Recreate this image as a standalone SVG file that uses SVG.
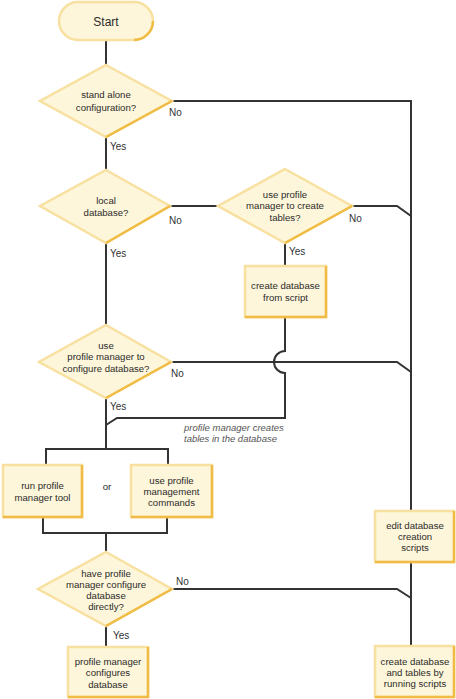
<svg xmlns="http://www.w3.org/2000/svg" width="456" height="699" viewBox="0 0 456 699">
<style>
.bg{fill:#ffffff}
.conn{fill:none;stroke:#333333;stroke-width:2}
.shape{fill:#fef6da;stroke:#f8e0a0;stroke-width:2.5}
.dark{fill:none;stroke:#f0bc45;stroke-width:2.5}
.t{font-family:"Liberation Sans",Arial,sans-serif;font-size:9.6px;fill:#2b2b2b;text-anchor:middle}
.lbl{font-family:"Liberation Sans",Arial,sans-serif;font-size:10px;fill:#333333}
.it{font-family:"Liberation Sans",Arial,sans-serif;font-size:9.5px;font-style:italic;fill:#555555}
</style>
<rect class="bg" x="0" y="0" width="456" height="699"/>
<g id="connectors">
<path class="conn" d="M106 41V65"/>
<path class="conn" d="M106 137V170"/>
<path class="conn" d="M172 101H411V511"/>
<path class="conn" d="M106 243V325"/>
<path class="conn" d="M170 206H218"/>
<path class="conn" d="M352 206H397L411 216"/>
<path class="conn" d="M285 243V266"/>
<path class="conn" d="M285 317V351A11 11 0 0 0 285 373V418H117L106 425"/>
<path class="conn" d="M171 362H397L411 372"/>
<path class="conn" d="M106 398V449M46 465V449H168V465"/>
<path class="conn" d="M43 517V533H167V517M106 533V552"/>
<path class="conn" d="M172 589H397L411 598"/>
<path class="conn" d="M106 626V647"/>
<path class="conn" d="M411 562V646"/>
<text class="lbl" x="169" y="115.5">No</text>
<text class="lbl" x="110" y="149.5">Yes</text>
<text class="lbl" x="169" y="223.5">No</text>
<text class="lbl" x="110" y="256.5">Yes</text>
<text class="lbl" x="349" y="221.5">No</text>
<text class="lbl" x="289" y="254.5">Yes</text>
<text class="lbl" x="171" y="376.5">No</text>
<text class="lbl" x="110" y="409.5">Yes</text>
<text class="lbl" x="176" y="584.5">No</text>
<text class="lbl" x="113" y="638.5">Yes</text>
<text class="it" x="184" y="430.5">profile manager creates</text>
<text class="it" x="184" y="441.5">tables in the database</text>
</g>
<g id="start">
<rect class="shape" x="59" y="2" width="94" height="38" rx="19"/>
<path class="dark" d="M134 40A19 19 0 0 0 153 21"/>
<text class="t" x="106" y="25.5" style="font-size:12px">Start</text>
</g>
<g id="standalone">
<polygon class="shape" points="106,65 172,101 106,137 40,101"/>
<path class="dark" d="M172 101L106 137"/>
<text class="t" x="106" y="97.5">stand alone</text>
<text class="t" x="106" y="110.5">configuration?</text>
</g>
<g id="localdb">
<polygon class="shape" points="106,170 170,206 106,243 40,206"/>
<path class="dark" d="M170 206L106 243"/>
<text class="t" x="106" y="203.5">local</text>
<text class="t" x="106" y="215.5">database?</text>
</g>
<g id="createtables">
<polygon class="shape" points="285,169 352,206 285,243 218,206"/>
<path class="dark" d="M352 206L285 243"/>
<text class="t" x="285" y="197.5">use profile</text>
<text class="t" x="285" y="209">manager to create</text>
<text class="t" x="285" y="220.5">tables?</text>
</g>
<g id="createfromscript">
<rect class="shape" x="245" y="266" width="81" height="51"/>
<path class="dark" d="M245 317H326V266"/>
<text class="t" x="285.5" y="288.5">create database</text>
<text class="t" x="285.5" y="300.5">from script</text>
</g>
<g id="configure">
<polygon class="shape" points="106,325 171,362 106,398 39,362"/>
<path class="dark" d="M171 362L106 398"/>
<text class="t" x="106" y="348.5">use</text>
<text class="t" x="106" y="360">profile manager to</text>
<text class="t" x="106" y="371.5">configure database?</text>
</g>
<g id="runtool">
<rect class="shape" x="3" y="465" width="79" height="52"/>
<path class="dark" d="M3 517H82V465"/>
<text class="t" x="42.5" y="488.5">run profile</text>
<text class="t" x="42.5" y="500.5">manager tool</text>
</g>
<g id="or">
<text class="t" x="107" y="489.5">or</text>
</g>
<g id="commands">
<rect class="shape" x="131" y="465" width="81" height="52"/>
<path class="dark" d="M131 517H212V465"/>
<text class="t" x="171.5" y="483.5">use profile</text>
<text class="t" x="171.5" y="495">management</text>
<text class="t" x="171.5" y="506">commands</text>
</g>
<g id="direct">
<polygon class="shape" points="106,552 172,589 106,626 38,589"/>
<path class="dark" d="M172 589L106 626"/>
<text class="t" x="106" y="576.5">have profile</text>
<text class="t" x="106" y="587.5">manager configure</text>
<text class="t" x="106" y="598.5">database</text>
<text class="t" x="106" y="609.5">directly?</text>
</g>
<g id="pmconfigures">
<rect class="shape" x="68" y="647" width="80" height="50"/>
<path class="dark" d="M68 697H148V647"/>
<text class="t" x="108" y="664.5">profile manager</text>
<text class="t" x="108" y="676">configures</text>
<text class="t" x="108" y="687.5">database</text>
</g>
<g id="editscripts">
<rect class="shape" x="375" y="511" width="79" height="51"/>
<path class="dark" d="M375 562H454V511"/>
<text class="t" x="415" y="528.5">edit database</text>
<text class="t" x="415" y="539.5">creation</text>
<text class="t" x="415" y="550.5">scripts</text>
</g>
<g id="runscripts">
<rect class="shape" x="375" y="646" width="79" height="51"/>
<path class="dark" d="M375 697H454V646"/>
<text class="t" x="415" y="664.5">create database</text>
<text class="t" x="415" y="675.5">and tables by</text>
<text class="t" x="415" y="686.5">running scripts</text>
</g>
</svg>
